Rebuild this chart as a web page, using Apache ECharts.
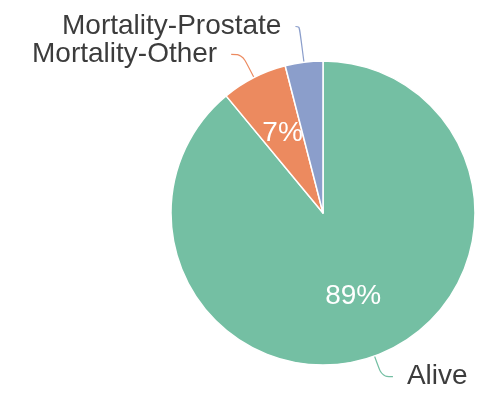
<!DOCTYPE html>
<html>
<head>
<meta charset="utf-8">
<script src="https://cdn.jsdelivr.net/npm/echarts@6/dist/echarts.min.js"></script>
<style>
  html, body { margin: 0; padding: 0; background: #ffffff; }
  #chart { width: 477px; height: 398px; }
</style>
</head>
<body>
<div id="chart"></div>
<script>
// Outcome shares (percent), drawn clockwise from 12 o'clock
const categories = ['Alive', 'Mortality-Other', 'Mortality-Prostate'];
const shares = [89, 7, 4];
const sliceColors = ['#74bfa3', '#ec8a5f', '#8b9ecb'];
// Slices large enough to carry a percentage inside
const showInside = [true, true, false];
// Leader line segment lengths per slice: [radial, horizontal]
const leaderLengths = [[22, 11], [26, 11], [36, 4]];

const chart = echarts.init(document.getElementById('chart'), null, { renderer: 'canvas' });

const pieData = categories.map((name, i) => ({
  name: name,
  value: shares[i],
  itemStyle: { color: sliceColors[i] },
  labelLine: {
    length: leaderLengths[i][0],
    length2: leaderLengths[i][1],
    lineStyle: { color: sliceColors[i] }
  }
}));

const percentData = categories.map((name, i) => ({
  name: name,
  value: shares[i],
  label: { show: showInside[i] }
}));

chart.setOption({
  animation: false,
  backgroundColor: '#ffffff',
  series: [
    {
      type: 'pie',
      center: [323, 213],
      radius: [0, 152],
      startAngle: 90,
      clockwise: true,
      avoidLabelOverlap: false,
      silent: true,
      itemStyle: { borderColor: '#ffffff', borderWidth: 1.5 },
      label: {
        show: true,
        position: 'outside',
        formatter: '{b}',
        color: '#3c3c3c',
        fontFamily: 'Liberation Sans, Arial, sans-serif',
        fontSize: 28,
        distanceToLabelLine: 14
      },
      labelLine: { show: true, smooth: 0.4, lineStyle: { width: 1.2 } },
      data: pieData
    },
    {
      // transparent twin used only to place the percentage labels
      type: 'pie',
      center: [323, 213],
      radius: [0, 172],
      startAngle: 90,
      clockwise: true,
      silent: true,
      itemStyle: { color: 'rgba(0,0,0,0)', borderWidth: 0 },
      label: {
        show: true,
        position: 'inside',
        formatter: '{d}%',
        color: '#ffffff',
        fontFamily: 'Liberation Sans, Arial, sans-serif',
        fontSize: 28
      },
      labelLine: { show: false },
      percentPrecision: 0,
      data: percentData
    }
  ]
});
</script>
</body>
</html>
